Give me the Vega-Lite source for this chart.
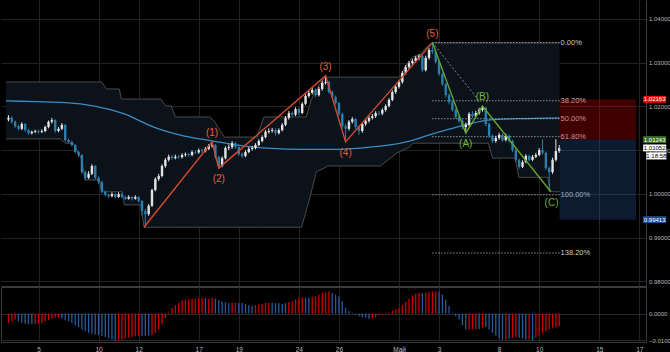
{
"$schema":"https://vega.github.io/schema/vega-lite/v6.json",
"background":"#000000",
"padding":0,
"spacing":0,
"config":{"font":"Liberation Sans","view":{"stroke":null},"axis":{"labelFont":"Liberation Sans","labelColor":"#b8b8b8","gridColor":"#232323","domainColor":"#3c3c3c","ticks":false,"title":null}},
"datasets":{
"candles":[
{"i":0,"o":1.0170,"h":1.0180,"l":1.0166,"c":1.0174},{"i":1,"o":1.0174,"h":1.0178,"l":1.0161,"c":1.0165},{"i":2,"o":1.0165,"h":1.0168,"l":1.0151,"c":1.0155},{"i":3,"o":1.0155,"h":1.0158,"l":1.0145,"c":1.0149},{"i":4,"o":1.0149,"h":1.0164,"l":1.0146,"c":1.0160},{"i":5,"o":1.0160,"h":1.0162,"l":1.0142,"c":1.0146},{"i":6,"o":1.0146,"h":1.0149,"l":1.0135,"c":1.0139},{"i":7,"o":1.0139,"h":1.0145,"l":1.0136,"c":1.0142},{"i":8,"o":1.0142,"h":1.0147,"l":1.0139,"c":1.0144},{"i":9,"o":1.0144,"h":1.0147,"l":1.0138,"c":1.0142},
{"i":10,"o":1.0142,"h":1.0148,"l":1.0139,"c":1.0144},{"i":11,"o":1.0144,"h":1.0156,"l":1.0141,"c":1.0153},{"i":12,"o":1.0153,"h":1.0168,"l":1.0150,"c":1.0165},{"i":13,"o":1.0165,"h":1.0174,"l":1.0161,"c":1.0169},{"i":14,"o":1.0169,"h":1.0171,"l":1.0140,"c":1.0144},{"i":15,"o":1.0144,"h":1.0153,"l":1.0141,"c":1.0149},{"i":16,"o":1.0149,"h":1.0162,"l":1.0146,"c":1.0158},{"i":17,"o":1.0158,"h":1.0160,"l":1.0120,"c":1.0123},{"i":18,"o":1.0123,"h":1.0127,"l":1.0116,"c":1.0119},{"i":19,"o":1.0119,"h":1.0122,"l":1.0108,"c":1.0112},
{"i":20,"o":1.0112,"h":1.0114,"l":1.0093,"c":1.0096},{"i":21,"o":1.0096,"h":1.0099,"l":1.0085,"c":1.0089},{"i":22,"o":1.0089,"h":1.0091,"l":1.0046,"c":1.0050},{"i":23,"o":1.0050,"h":1.0053,"l":1.0032,"c":1.0037},{"i":24,"o":1.0037,"h":1.0052,"l":1.0034,"c":1.0046},{"i":25,"o":1.0046,"h":1.0068,"l":1.0043,"c":1.0064},{"i":26,"o":1.0064,"h":1.0066,"l":1.0033,"c":1.0037},{"i":27,"o":1.0037,"h":1.0040,"l":1.0023,"c":1.0027},{"i":28,"o":1.0027,"h":1.0030,"l":1.0001,"c":1.0005},{"i":29,"o":1.0005,"h":1.0008,"l":0.9994,"c":0.9998},
{"i":30,"o":0.9998,"h":1.0001,"l":0.9991,"c":0.9995},{"i":31,"o":0.9995,"h":1.0004,"l":0.9992,"c":1.0000},{"i":32,"o":1.0000,"h":1.0003,"l":0.9990,"c":0.9993},{"i":33,"o":0.9993,"h":1.0004,"l":0.9991,"c":1.0000},{"i":34,"o":1.0000,"h":1.0003,"l":0.9990,"c":0.9993},{"i":35,"o":0.9993,"h":0.9996,"l":0.9986,"c":0.9989},{"i":36,"o":0.9989,"h":0.9997,"l":0.9987,"c":0.9993},{"i":37,"o":0.9993,"h":0.9995,"l":0.9985,"c":0.9989},{"i":38,"o":0.9989,"h":0.9997,"l":0.9987,"c":0.9993},{"i":39,"o":0.9993,"h":0.9995,"l":0.9980,"c":0.9984},
{"i":40,"o":0.9984,"h":0.9986,"l":0.9950,"c":0.9961},{"i":41,"o":0.9961,"h":0.9966,"l":0.9924,"c":0.9954},{"i":42,"o":0.9954,"h":0.9977,"l":0.9950,"c":0.9973},{"i":43,"o":0.9973,"h":1.0012,"l":0.9970,"c":1.0009},{"i":44,"o":1.0009,"h":1.0038,"l":1.0006,"c":1.0034},{"i":45,"o":1.0034,"h":1.0046,"l":1.0030,"c":1.0041},{"i":46,"o":1.0041,"h":1.0068,"l":1.0038,"c":1.0064},{"i":47,"o":1.0064,"h":1.0082,"l":1.0060,"c":1.0078},{"i":48,"o":1.0078,"h":1.0090,"l":1.0074,"c":1.0085},{"i":49,"o":1.0085,"h":1.0089,"l":1.0078,"c":1.0082},
{"i":50,"o":1.0082,"h":1.0090,"l":1.0079,"c":1.0085},{"i":51,"o":1.0085,"h":1.0089,"l":1.0080,"c":1.0084},{"i":52,"o":1.0084,"h":1.0093,"l":1.0081,"c":1.0089},{"i":53,"o":1.0089,"h":1.0095,"l":1.0085,"c":1.0091},{"i":54,"o":1.0091,"h":1.0094,"l":1.0085,"c":1.0089},{"i":55,"o":1.0089,"h":1.0100,"l":1.0086,"c":1.0096},{"i":56,"o":1.0096,"h":1.0100,"l":1.0091,"c":1.0095},{"i":57,"o":1.0095,"h":1.0104,"l":1.0092,"c":1.0100},{"i":58,"o":1.0100,"h":1.0103,"l":1.0094,"c":1.0098},{"i":59,"o":1.0098,"h":1.0107,"l":1.0095,"c":1.0103},
{"i":60,"o":1.0103,"h":1.0114,"l":1.0100,"c":1.0110},{"i":61,"o":1.0110,"h":1.0119,"l":1.0106,"c":1.0112},{"i":62,"o":1.0112,"h":1.0114,"l":1.0080,"c":1.0085},{"i":63,"o":1.0085,"h":1.0087,"l":1.0059,"c":1.0064},{"i":64,"o":1.0064,"h":1.0086,"l":1.0061,"c":1.0082},{"i":65,"o":1.0082,"h":1.0109,"l":1.0079,"c":1.0105},{"i":66,"o":1.0105,"h":1.0113,"l":1.0100,"c":1.0107},{"i":67,"o":1.0107,"h":1.0121,"l":1.0103,"c":1.0116},{"i":68,"o":1.0116,"h":1.0119,"l":1.0103,"c":1.0107},{"i":69,"o":1.0107,"h":1.0109,"l":1.0087,"c":1.0091},
{"i":70,"o":1.0091,"h":1.0095,"l":1.0083,"c":1.0087},{"i":71,"o":1.0087,"h":1.0100,"l":1.0084,"c":1.0096},{"i":72,"o":1.0096,"h":1.0107,"l":1.0093,"c":1.0103},{"i":73,"o":1.0103,"h":1.0110,"l":1.0099,"c":1.0105},{"i":74,"o":1.0105,"h":1.0116,"l":1.0102,"c":1.0112},{"i":75,"o":1.0112,"h":1.0125,"l":1.0109,"c":1.0121},{"i":76,"o":1.0121,"h":1.0134,"l":1.0118,"c":1.0130},{"i":77,"o":1.0130,"h":1.0146,"l":1.0127,"c":1.0142},{"i":78,"o":1.0142,"h":1.0150,"l":1.0138,"c":1.0144},{"i":79,"o":1.0144,"h":1.0151,"l":1.0140,"c":1.0146},
{"i":80,"o":1.0146,"h":1.0150,"l":1.0134,"c":1.0139},{"i":81,"o":1.0139,"h":1.0150,"l":1.0136,"c":1.0146},{"i":82,"o":1.0146,"h":1.0162,"l":1.0143,"c":1.0158},{"i":83,"o":1.0158,"h":1.0178,"l":1.0155,"c":1.0174},{"i":84,"o":1.0174,"h":1.0190,"l":1.0170,"c":1.0185},{"i":85,"o":1.0185,"h":1.0189,"l":1.0176,"c":1.0181},{"i":86,"o":1.0181,"h":1.0198,"l":1.0178,"c":1.0194},{"i":87,"o":1.0194,"h":1.0197,"l":1.0180,"c":1.0185},{"i":88,"o":1.0185,"h":1.0210,"l":1.0182,"c":1.0206},{"i":89,"o":1.0206,"h":1.0228,"l":1.0203,"c":1.0224},
{"i":90,"o":1.0224,"h":1.0236,"l":1.0220,"c":1.0231},{"i":91,"o":1.0231,"h":1.0243,"l":1.0227,"c":1.0238},{"i":92,"o":1.0238,"h":1.0241,"l":1.0222,"c":1.0226},{"i":93,"o":1.0226,"h":1.0245,"l":1.0223,"c":1.0240},{"i":94,"o":1.0240,"h":1.0259,"l":1.0236,"c":1.0254},{"i":95,"o":1.0254,"h":1.0270,"l":1.0250,"c":1.0256},{"i":96,"o":1.0256,"h":1.0259,"l":1.0229,"c":1.0233},{"i":97,"o":1.0233,"h":1.0237,"l":1.0218,"c":1.0222},{"i":98,"o":1.0222,"h":1.0225,"l":1.0204,"c":1.0208},{"i":99,"o":1.0208,"h":1.0210,"l":1.0178,"c":1.0183},
{"i":100,"o":1.0183,"h":1.0186,"l":1.0150,"c":1.0155},{"i":101,"o":1.0155,"h":1.0160,"l":1.0119,"c":1.0149},{"i":102,"o":1.0149,"h":1.0169,"l":1.0145,"c":1.0165},{"i":103,"o":1.0165,"h":1.0176,"l":1.0161,"c":1.0171},{"i":104,"o":1.0171,"h":1.0174,"l":1.0149,"c":1.0153},{"i":105,"o":1.0153,"h":1.0157,"l":1.0135,"c":1.0144},{"i":106,"o":1.0144,"h":1.0164,"l":1.0140,"c":1.0160},{"i":107,"o":1.0160,"h":1.0172,"l":1.0156,"c":1.0167},{"i":108,"o":1.0167,"h":1.0178,"l":1.0163,"c":1.0174},{"i":109,"o":1.0174,"h":1.0183,"l":1.0170,"c":1.0178},
{"i":110,"o":1.0178,"h":1.0189,"l":1.0174,"c":1.0185},{"i":111,"o":1.0185,"h":1.0190,"l":1.0179,"c":1.0184},{"i":112,"o":1.0184,"h":1.0196,"l":1.0180,"c":1.0192},{"i":113,"o":1.0192,"h":1.0205,"l":1.0188,"c":1.0201},{"i":114,"o":1.0201,"h":1.0219,"l":1.0198,"c":1.0215},{"i":115,"o":1.0215,"h":1.0237,"l":1.0212,"c":1.0233},{"i":116,"o":1.0233,"h":1.0250,"l":1.0229,"c":1.0245},{"i":117,"o":1.0245,"h":1.0261,"l":1.0241,"c":1.0256},{"i":118,"o":1.0256,"h":1.0281,"l":1.0252,"c":1.0277},{"i":119,"o":1.0277,"h":1.0295,"l":1.0273,"c":1.0290},
{"i":120,"o":1.0290,"h":1.0304,"l":1.0286,"c":1.0299},{"i":121,"o":1.0299,"h":1.0309,"l":1.0295,"c":1.0304},{"i":122,"o":1.0304,"h":1.0316,"l":1.0300,"c":1.0311},{"i":123,"o":1.0311,"h":1.0320,"l":1.0306,"c":1.0315},{"i":124,"o":1.0315,"h":1.0318,"l":1.0279,"c":1.0283},{"i":125,"o":1.0283,"h":1.0316,"l":1.0280,"c":1.0311},{"i":126,"o":1.0311,"h":1.0334,"l":1.0307,"c":1.0329},{"i":127,"o":1.0329,"h":1.0346,"l":1.0320,"c":1.0325},{"i":128,"o":1.0325,"h":1.0328,"l":1.0298,"c":1.0302},{"i":129,"o":1.0302,"h":1.0305,"l":1.0270,"c":1.0274},
{"i":130,"o":1.0274,"h":1.0277,"l":1.0247,"c":1.0251},{"i":131,"o":1.0251,"h":1.0254,"l":1.0221,"c":1.0226},{"i":132,"o":1.0226,"h":1.0230,"l":1.0205,"c":1.0210},{"i":133,"o":1.0210,"h":1.0214,"l":1.0188,"c":1.0192},{"i":134,"o":1.0192,"h":1.0196,"l":1.0172,"c":1.0176},{"i":135,"o":1.0176,"h":1.0180,"l":1.0162,"c":1.0167},{"i":136,"o":1.0167,"h":1.0171,"l":1.0148,"c":1.0153},{"i":137,"o":1.0153,"h":1.0163,"l":1.0139,"c":1.0158},{"i":138,"o":1.0158,"h":1.0187,"l":1.0155,"c":1.0183},{"i":139,"o":1.0183,"h":1.0189,"l":1.0174,"c":1.0178},
{"i":140,"o":1.0178,"h":1.0190,"l":1.0174,"c":1.0185},{"i":141,"o":1.0185,"h":1.0197,"l":1.0181,"c":1.0192},{"i":142,"o":1.0192,"h":1.0201,"l":1.0188,"c":1.0197},{"i":143,"o":1.0197,"h":1.0199,"l":1.0155,"c":1.0160},{"i":144,"o":1.0160,"h":1.0163,"l":1.0128,"c":1.0133},{"i":145,"o":1.0133,"h":1.0136,"l":1.0116,"c":1.0121},{"i":146,"o":1.0121,"h":1.0133,"l":1.0117,"c":1.0128},{"i":147,"o":1.0128,"h":1.0140,"l":1.0124,"c":1.0135},{"i":148,"o":1.0135,"h":1.0138,"l":1.0119,"c":1.0123},{"i":149,"o":1.0123,"h":1.0138,"l":1.0120,"c":1.0133},
{"i":150,"o":1.0133,"h":1.0136,"l":1.0117,"c":1.0121},{"i":151,"o":1.0121,"h":1.0124,"l":1.0096,"c":1.0100},{"i":152,"o":1.0100,"h":1.0103,"l":1.0074,"c":1.0078},{"i":153,"o":1.0078,"h":1.0081,"l":1.0058,"c":1.0062},{"i":154,"o":1.0062,"h":1.0077,"l":1.0059,"c":1.0073},{"i":155,"o":1.0073,"h":1.0091,"l":1.0070,"c":1.0087},{"i":156,"o":1.0087,"h":1.0090,"l":1.0074,"c":1.0078},{"i":157,"o":1.0078,"h":1.0089,"l":1.0075,"c":1.0085},{"i":158,"o":1.0085,"h":1.0094,"l":1.0082,"c":1.0089},{"i":159,"o":1.0089,"h":1.0105,"l":1.0086,"c":1.0100},
{"i":160,"o":1.0100,"h":1.0125,"l":1.0090,"c":1.0094},{"i":161,"o":1.0094,"h":1.0097,"l":1.0055,"c":1.0059},{"i":162,"o":1.0059,"h":1.0063,"l":1.0005,"c":1.0050},{"i":163,"o":1.0050,"h":1.0083,"l":1.0046,"c":1.0078},{"i":164,"o":1.0078,"h":1.0125,"l":1.0074,"c":1.0098},{"i":165,"o":1.0098,"h":1.0112,"l":1.0094,"c":1.0105}
],
"cloud":[
{"i":-0.74,"up":1.0256,"lo":1.0126},{"i":15.5,"up":1.0256,"lo":1.0126},{"i":17,"up":1.0256,"lo":1.0116},{"i":19.3,"up":1.0256,"lo":1.0116},{"i":20.5,"up":1.0256,"lo":1.0100},{"i":22,"up":1.0256,"lo":1.0078},{"i":22.9,"up":1.0256,"lo":1.0032},{"i":27.3,"up":1.0256,"lo":1.0032},{"i":27.9,"up":1.0256,"lo":1.0005},{"i":29.4,"up":1.0240,"lo":1.0005},{"i":33.2,"up":1.0240,"lo":1.0005},{"i":33.8,"up":1.0217,"lo":1.0005},{"i":34.1,"up":1.0217,"lo":1.0005},{"i":34.7,"up":1.0217,"lo":0.9975},{"i":39.7,"up":1.0217,"lo":0.9975},{"i":40.6,"up":1.0217,"lo":0.9924},{"i":45.6,"up":1.0217,"lo":0.9924},{"i":47.1,"up":1.0201,"lo":0.9924},{"i":48.8,"up":1.0201,"lo":0.9924},{"i":50,"up":1.0176,"lo":0.9924},{"i":60.3,"up":1.0176,"lo":0.9924},{"i":61.8,"up":1.0165,"lo":0.9924},{"i":63.3,"up":1.0146,"lo":0.9924},{"i":64.7,"up":1.0130,"lo":0.9924},{"i":74.5,"up":1.0130,"lo":0.9924},{"i":76.5,"up":1.0176,"lo":0.9924},{"i":87.8,"up":1.0176,"lo":0.9924},{"i":89.2,"up":1.0176,"lo":0.9962},{"i":90.1,"up":1.0199,"lo":0.9986},{"i":90.7,"up":1.0215,"lo":1.0004},{"i":92.2,"up":1.0236,"lo":1.0050},{"i":93.1,"up":1.0249,"lo":1.0054},{"i":94.8,"up":1.0267,"lo":1.0060},{"i":95.7,"up":1.0267,"lo":1.0064},{"i":111.4,"up":1.0267,"lo":1.0064},{"i":116.4,"up":1.0267,"lo":1.0094},{"i":117.3,"up":1.0267,"lo":1.0097},{"i":118.7,"up":1.0290,"lo":1.0102},{"i":120.2,"up":1.0305,"lo":1.0107},{"i":120.8,"up":1.0311,"lo":1.0113},{"i":121.1,"up":1.0313,"lo":1.0116},{"i":123.2,"up":1.0318,"lo":1.0116},{"i":125.5,"up":1.0338,"lo":1.0116},{"i":127,"up":1.0345,"lo":1.0116},{"i":143.8,"up":1.0345,"lo":1.0116},{"i":145,"up":1.0345,"lo":1.0082},{"i":151.8,"up":1.0345,"lo":1.0082},{"i":152.9,"up":1.0345,"lo":1.0038},{"i":161.5,"up":1.0345,"lo":1.0038},{"i":162.4,"up":1.0345,"lo":1.0005},{"i":165.1,"up":1.0345,"lo":1.0005}
],
"ma":[
{"i":-0.74,"p":1.0213},{"i":8.1,"p":1.0211},{"i":17,"p":1.0209},{"i":25.8,"p":1.0201},{"i":34.7,"p":1.0183},{"i":43.5,"p":1.0153},{"i":52.4,"p":1.0133},{"i":61.2,"p":1.0121},{"i":70.1,"p":1.0110},{"i":78.9,"p":1.0104},{"i":87.8,"p":1.0102},{"i":96.6,"p":1.0102},{"i":105.5,"p":1.0105},{"i":114.3,"p":1.0112},{"i":120.2,"p":1.0121},{"i":126.1,"p":1.0135},{"i":132,"p":1.0148},{"i":137.9,"p":1.0160},{"i":143.8,"p":1.0169},{"i":152.7,"p":1.0172},{"i":165.1,"p":1.0174}
],
"impulse":[{"i":40.6,"p":0.9924},{"i":61,"p":1.0119},{"i":63,"p":1.0059},{"i":95,"p":1.0270},{"i":101,"p":1.0119},{"i":127,"p":1.0346}],
"abc":[{"i":127,"p":1.0346},{"i":137,"p":1.0139},{"i":142,"p":1.0201},{"i":162.5,"p":1.0005}],
"fibtrend":[{"i":127,"p":1.0346},{"i":141,"p":1.0213}],
"wavelabels":[
{"i":61,"p":1.0119,"lab":"(1)","side":"top","deg":"impulse"},{"i":63,"p":1.0059,"lab":"(2)","side":"bottom","deg":"impulse"},{"i":95,"p":1.0270,"lab":"(3)","side":"top","deg":"impulse"},{"i":101,"p":1.0119,"lab":"(4)","side":"bottom","deg":"impulse"},{"i":127,"p":1.0346,"lab":"(5)","side":"top","deg":"impulse"},
{"i":137,"p":1.0139,"lab":"(A)","side":"bottom","deg":"corrective"},{"i":142,"p":1.0201,"lab":"(B)","side":"top","deg":"corrective"},{"i":162.7,"p":1.0005,"lab":"(C)","side":"bottom","deg":"corrective"}
],
"fib":[{"lv":"0.00%","p":1.0346},{"lv":"38.20%","p":1.0213},{"lv":"50.00%","p":1.0172},{"lv":"61.80%","p":1.0131},{"lv":"100.00%","p":0.9998},{"lv":"138.20%","p":0.9865}],
"zones":[{"z":"risk","top":1.02163,"bot":1.01243},{"z":"reward","top":1.01243,"bot":0.99413}],
"tags":[{"kind":"stop","p":1.02163,"txt":"1.02163"},{"kind":"entry","p":1.01243,"txt":"1.01243"},{"kind":"last","p":1.01052,"txt":"1.01052","timer":"1:18:58"},{"kind":"target","p":0.99413,"txt":"0.99413"}],
"macd":[
{"i":0,"v":-0.0035,"t":"rise"},{"i":1,"v":-0.0029,"t":"rise"},{"i":2,"v":-0.0023,"t":"rise"},{"i":3,"v":-0.0029,"t":"fall"},{"i":4,"v":-0.0035,"t":"fall"},{"i":5,"v":-0.0039,"t":"fall"},{"i":6,"v":-0.0041,"t":"fall"},{"i":7,"v":-0.0041,"t":"fall"},{"i":8,"v":-0.0041,"t":"rise"},{"i":9,"v":-0.0039,"t":"rise"},
{"i":10,"v":-0.0035,"t":"rise"},{"i":11,"v":-0.0029,"t":"rise"},{"i":12,"v":-0.0025,"t":"rise"},{"i":13,"v":-0.0020,"t":"rise"},{"i":14,"v":-0.0016,"t":"rise"},{"i":15,"v":-0.0016,"t":"rise"},{"i":16,"v":-0.0019,"t":"fall"},{"i":17,"v":-0.0025,"t":"fall"},{"i":18,"v":-0.0029,"t":"fall"},{"i":19,"v":-0.0035,"t":"fall"},
{"i":20,"v":-0.0044,"t":"fall"},{"i":21,"v":-0.0051,"t":"fall"},{"i":22,"v":-0.0060,"t":"fall"},{"i":23,"v":-0.0066,"t":"fall"},{"i":24,"v":-0.0073,"t":"fall"},{"i":25,"v":-0.0076,"t":"fall"},{"i":26,"v":-0.0079,"t":"fall"},{"i":27,"v":-0.0081,"t":"fall"},{"i":28,"v":-0.0085,"t":"fall"},{"i":29,"v":-0.0089,"t":"fall"},
{"i":30,"v":-0.0094,"t":"fall"},{"i":31,"v":-0.0098,"t":"fall"},{"i":32,"v":-0.0104,"t":"fall"},{"i":33,"v":-0.0101,"t":"rise"},{"i":34,"v":-0.0098,"t":"rise"},{"i":35,"v":-0.0094,"t":"rise"},{"i":36,"v":-0.0091,"t":"rise"},{"i":37,"v":-0.0089,"t":"rise"},{"i":38,"v":-0.0086,"t":"rise"},{"i":39,"v":-0.0085,"t":"rise"},
{"i":40,"v":-0.0084,"t":"fall"},{"i":41,"v":-0.0084,"t":"fall"},{"i":42,"v":-0.0083,"t":"fall"},{"i":43,"v":-0.0081,"t":"rise"},{"i":44,"v":-0.0073,"t":"rise"},{"i":45,"v":-0.0060,"t":"rise"},{"i":46,"v":-0.0041,"t":"rise"},{"i":47,"v":-0.0019,"t":"rise"},{"i":48,"v":0.0003,"t":"rise"},{"i":49,"v":0.0021,"t":"rise"},
{"i":50,"v":0.0031,"t":"rise"},{"i":51,"v":0.0040,"t":"rise"},{"i":52,"v":0.0049,"t":"rise"},{"i":53,"v":0.0053,"t":"rise"},{"i":54,"v":0.0055,"t":"rise"},{"i":55,"v":0.0056,"t":"rise"},{"i":56,"v":0.0056,"t":"rise"},{"i":57,"v":0.0058,"t":"rise"},{"i":58,"v":0.0059,"t":"rise"},{"i":59,"v":0.0058,"t":"fall"},
{"i":60,"v":0.0056,"t":"rise"},{"i":61,"v":0.0059,"t":"rise"},{"i":62,"v":0.0056,"t":"fall"},{"i":63,"v":0.0050,"t":"fall"},{"i":64,"v":0.0046,"t":"fall"},{"i":65,"v":0.0043,"t":"fall"},{"i":66,"v":0.0039,"t":"fall"},{"i":67,"v":0.0040,"t":"rise"},{"i":68,"v":0.0041,"t":"rise"},{"i":69,"v":0.0040,"t":"fall"},
{"i":70,"v":0.0040,"t":"fall"},{"i":71,"v":0.0036,"t":"fall"},{"i":72,"v":0.0031,"t":"fall"},{"i":73,"v":0.0028,"t":"fall"},{"i":74,"v":0.0031,"t":"rise"},{"i":75,"v":0.0034,"t":"rise"},{"i":76,"v":0.0036,"t":"rise"},{"i":77,"v":0.0039,"t":"rise"},{"i":78,"v":0.0040,"t":"rise"},{"i":79,"v":0.0040,"t":"fall"},
{"i":80,"v":0.0039,"t":"fall"},{"i":81,"v":0.0039,"t":"fall"},{"i":82,"v":0.0036,"t":"fall"},{"i":83,"v":0.0039,"t":"fall"},{"i":84,"v":0.0043,"t":"rise"},{"i":85,"v":0.0046,"t":"rise"},{"i":86,"v":0.0053,"t":"rise"},{"i":87,"v":0.0059,"t":"rise"},{"i":88,"v":0.0061,"t":"rise"},{"i":89,"v":0.0059,"t":"fall"},
{"i":90,"v":0.0059,"t":"fall"},{"i":91,"v":0.0061,"t":"rise"},{"i":92,"v":0.0065,"t":"rise"},{"i":93,"v":0.0071,"t":"rise"},{"i":94,"v":0.0078,"t":"rise"},{"i":95,"v":0.0080,"t":"rise"},{"i":96,"v":0.0084,"t":"rise"},{"i":97,"v":0.0078,"t":"fall"},{"i":98,"v":0.0071,"t":"fall"},{"i":99,"v":0.0065,"t":"fall"},
{"i":100,"v":0.0046,"t":"fall"},{"i":101,"v":0.0021,"t":"fall"},{"i":102,"v":0.0009,"t":"fall"},{"i":103,"v":0.0003,"t":"fall"},{"i":104,"v":-0.0004,"t":"fall"},{"i":105,"v":-0.0010,"t":"fall"},{"i":106,"v":-0.0014,"t":"fall"},{"i":107,"v":-0.0016,"t":"fall"},{"i":108,"v":-0.0020,"t":"fall"},{"i":109,"v":-0.0019,"t":"rise"},
{"i":110,"v":-0.0014,"t":"rise"},{"i":111,"v":-0.0006,"t":"rise"},{"i":112,"v":-0.0004,"t":"rise"},{"i":113,"v":0.0003,"t":"rise"},{"i":114,"v":0.0005,"t":"rise"},{"i":115,"v":0.0009,"t":"rise"},{"i":116,"v":0.0015,"t":"rise"},{"i":117,"v":0.0021,"t":"rise"},{"i":118,"v":0.0031,"t":"rise"},{"i":119,"v":0.0043,"t":"rise"},
{"i":120,"v":0.0056,"t":"rise"},{"i":121,"v":0.0068,"t":"rise"},{"i":122,"v":0.0075,"t":"rise"},{"i":123,"v":0.0078,"t":"rise"},{"i":124,"v":0.0077,"t":"fall"},{"i":125,"v":0.0078,"t":"rise"},{"i":126,"v":0.0081,"t":"rise"},{"i":127,"v":0.0084,"t":"rise"},{"i":128,"v":0.0084,"t":"rise"},{"i":129,"v":0.0083,"t":"fall"},
{"i":130,"v":0.0071,"t":"fall"},{"i":131,"v":0.0053,"t":"fall"},{"i":132,"v":0.0028,"t":"fall"},{"i":133,"v":0.0003,"t":"fall"},{"i":134,"v":-0.0010,"t":"fall"},{"i":135,"v":-0.0023,"t":"fall"},{"i":136,"v":-0.0044,"t":"fall"},{"i":137,"v":-0.0060,"t":"fall"},{"i":138,"v":-0.0060,"t":"rise"},{"i":139,"v":-0.0060,"t":"rise"},
{"i":140,"v":-0.0059,"t":"rise"},{"i":141,"v":-0.0058,"t":"fall"},{"i":142,"v":-0.0054,"t":"rise"},{"i":143,"v":-0.0051,"t":"fall"},{"i":144,"v":-0.0060,"t":"fall"},{"i":145,"v":-0.0073,"t":"fall"},{"i":146,"v":-0.0083,"t":"fall"},{"i":147,"v":-0.0094,"t":"fall"},{"i":148,"v":-0.0099,"t":"fall"},{"i":149,"v":-0.0098,"t":"rise"},
{"i":150,"v":-0.0095,"t":"fall"},{"i":151,"v":-0.0091,"t":"rise"},{"i":152,"v":-0.0089,"t":"rise"},{"i":153,"v":-0.0091,"t":"fall"},{"i":154,"v":-0.0095,"t":"fall"},{"i":155,"v":-0.0099,"t":"fall"},{"i":156,"v":-0.0098,"t":"rise"},{"i":157,"v":-0.0101,"t":"fall"},{"i":158,"v":-0.0091,"t":"rise"},{"i":159,"v":-0.0085,"t":"rise"},
{"i":160,"v":-0.0075,"t":"rise"},{"i":161,"v":-0.0066,"t":"rise"},{"i":162,"v":-0.0060,"t":"rise"},{"i":163,"v":-0.0054,"t":"rise"},{"i":164,"v":-0.0051,"t":"rise"},{"i":165,"v":-0.0048,"t":"rise"}
]
},
"vconcat":[
{
"width":645,"height":286,
"layer":[
{"data":{"name":"cloud"},"mark":{"type":"area","color":"#0b1219"},
 "encoding":{
  "x":{"field":"i","type":"quantitative","scale":{"domain":[-0.74,189.5],"nice":false,"zero":false},
       "axis":{"values":[9,27,39,57,69,87,99,117,129,147,159,177,189],"labels":false,"grid":true,"domain":true,"title":null}},
  "y":{"field":"up","type":"quantitative","scale":{"domain":[0.97896,1.04434],"nice":false,"zero":false},
       "axis":{"orient":"right","values":[0.98,0.985,0.99,0.995,1.0,1.005,1.01,1.015,1.02,1.025,1.03,1.035,1.04],"format":".5f","labelFontSize":6,"labelPadding":2.5,"grid":true,"domain":true,"title":null}},
  "y2":{"field":"lo"}}},
{"data":{"name":"cloud"},"mark":{"type":"line","color":"#4a4a4a","strokeWidth":1},
 "encoding":{"x":{"field":"i","type":"quantitative"},"y":{"field":"up","type":"quantitative"}}},
{"data":{"name":"cloud"},"mark":{"type":"line","color":"#4a4a4a","strokeWidth":1},
 "encoding":{"x":{"field":"i","type":"quantitative"},"y":{"field":"lo","type":"quantitative"}}},
{"data":{"name":"ma"},"mark":{"type":"line","color":"#3a8cc4","strokeWidth":1.3,"interpolate":"monotone"},
 "encoding":{"x":{"field":"i","type":"quantitative"},"y":{"field":"p","type":"quantitative"}}},
{"mark":{"type":"rule","color":"#8a8a8a","strokeDash":[1,1],"strokeWidth":1},
 "encoding":{"y":{"datum":1.01052,"type":"quantitative"}}},
{"data":{"name":"fib"},"mark":{"type":"rule","color":"#cfcfcf","strokeDash":[1,2],"strokeWidth":1},
 "encoding":{"x":{"datum":127},"x2":{"datum":165.1},"y":{"field":"p","type":"quantitative"}}},
{"data":{"name":"fib"},"mark":{"type":"text","color":"#cccccc","align":"left","baseline":"middle","dx":1,"fontSize":7.5},
 "encoding":{"x":{"datum":165.1},"y":{"field":"p","type":"quantitative"},"text":{"field":"lv"}}},
{"data":{"name":"candles"},"mark":{"type":"rule","strokeWidth":1},
 "encoding":{"x":{"field":"i","type":"quantitative"},"y":{"field":"l","type":"quantitative"},"y2":{"field":"h"},
  "color":{"condition":{"test":"datum.c >= datum.o","value":"#e4e4e4"},"value":"#2b7fae"}}},
{"data":{"name":"candles"},"mark":{"type":"bar","size":2.4},
 "encoding":{"x":{"field":"i","type":"quantitative"},"y":{"field":"o","type":"quantitative"},"y2":{"field":"c"},
  "color":{"condition":{"test":"datum.c >= datum.o","value":"#e4e4e4"},"value":"#2b7fae"}}},
{"data":{"name":"fibtrend"},"mark":{"type":"line","color":"#8a8a8a","strokeDash":[2,2],"strokeWidth":1},
 "encoding":{"x":{"field":"i","type":"quantitative"},"y":{"field":"p","type":"quantitative"}}},
{"data":{"name":"impulse"},"mark":{"type":"line","color":"#d24a2c","strokeWidth":1.4},
 "encoding":{"x":{"field":"i","type":"quantitative"},"y":{"field":"p","type":"quantitative"}}},
{"data":{"name":"abc"},"mark":{"type":"line","color":"#62a62e","strokeWidth":1.4},
 "encoding":{"x":{"field":"i","type":"quantitative"},"y":{"field":"p","type":"quantitative"}}},
{"data":{"name":"wavelabels"},"transform":[{"filter":"datum.side=='top'"}],"mark":{"type":"text","baseline":"middle","dy":-9,"fontSize":10},
 "encoding":{"x":{"field":"i","type":"quantitative"},"y":{"field":"p","type":"quantitative"},"text":{"field":"lab"},
  "color":{"condition":{"test":"datum.deg=='impulse'","value":"#e0643f"},"value":"#6ab536"}}},
{"data":{"name":"wavelabels"},"transform":[{"filter":"datum.side=='bottom'"}],"mark":{"type":"text","baseline":"middle","dy":11,"fontSize":10},
 "encoding":{"x":{"field":"i","type":"quantitative"},"y":{"field":"p","type":"quantitative"},"text":{"field":"lab"},
  "color":{"condition":{"test":"datum.deg=='impulse'","value":"#e0643f"},"value":"#6ab536"}}},
{"data":{"name":"zones"},"mark":{"type":"rect","opacity":0.3},
 "encoding":{"x":{"datum":165.1},"x2":{"datum":188},"y":{"field":"top","type":"quantitative"},"y2":{"field":"bot"},
  "color":{"field":"z","type":"nominal","scale":{"domain":["risk","reward"],"range":["#d00000","#2a5a9e"]},"legend":null}}},
{"data":{"name":"tags"},"mark":{"type":"point","filled":true,"opacity":1,"size":529,"shape":"M-1,-0.3L1,-0.3L1,0.3L-1,0.3Z","strokeWidth":0},
 "encoding":{"x":{"datum":193.6},"y":{"field":"p","type":"quantitative"},
  "fill":{"field":"kind","type":"nominal","scale":{"domain":["stop","entry","last","target"],"range":["#e80e0e","#3b7023","#ffffff","#1f4e98"]},"legend":null}}},
{"data":{"name":"tags"},"mark":{"type":"text","fontSize":6,"baseline":"middle","align":"center"},
 "encoding":{"x":{"datum":193.6},"y":{"field":"p","type":"quantitative"},"text":{"field":"txt"},
  "color":{"condition":{"test":"datum.kind=='last'","value":"#000000"},"value":"#ffffff"}}},
{"data":{"name":"tags"},"transform":[{"filter":"datum.kind=='last'"}],"mark":{"type":"point","filled":true,"opacity":1,"size":400,"shape":"M-1,-0.35L1,-0.35L1,0.35L-1,0.35Z","strokeWidth":0,"color":"#ffffff","yOffset":8},
 "encoding":{"x":{"datum":194.1},"y":{"field":"p","type":"quantitative"}}},
{"data":{"name":"tags"},"transform":[{"filter":"datum.kind=='last'"}],"mark":{"type":"text","fontSize":6,"baseline":"middle","align":"center","color":"#000000","yOffset":8},
 "encoding":{"x":{"datum":194.1},"y":{"field":"p","type":"quantitative"},"text":{"field":"timer"}}}
]
},
{
"width":645,"height":55,
"view":{"stroke":"#3a3a3a"},
"data":{"name":"macd"},
"mark":{"type":"bar","size":1.3},
"encoding":{
 "x":{"field":"i","type":"quantitative","scale":{"domain":[-0.74,189.5],"nice":false,"zero":false},
      "axis":{"values":[9,27,39,57,69,87,99,117,129,147,159,177,189],"labelFontSize":6.5,"labelPadding":4,"labelFlush":false,"grid":true,"domain":false,"title":null,
      "labelExpr":"datum.value==9?'5':datum.value==27?'10':datum.value==39?'12':datum.value==57?'17':datum.value==69?'19':datum.value==87?'24':datum.value==99?'26':datum.value==117?'Май':datum.value==129?'3':datum.value==147?'8':datum.value==159?'10':datum.value==177?'15':datum.value==189?'17':''"}},
 "y":{"field":"v","type":"quantitative","scale":{"domain":[-0.01075,0.01],"nice":false,"zero":false},
      "axis":{"orient":"right","values":[0,-0.01],"format":".4f","labelFontSize":6,"labelPadding":2.5,"grid":true,"gridColor":"#2a2a2a","domain":false,"title":null}},
 "y2":{"datum":0},
 "color":{"field":"t","type":"nominal","scale":{"domain":["rise","fall"],"range":["#2b8cc4","#d0502c"]},"legend":null}
}
}
]
}
